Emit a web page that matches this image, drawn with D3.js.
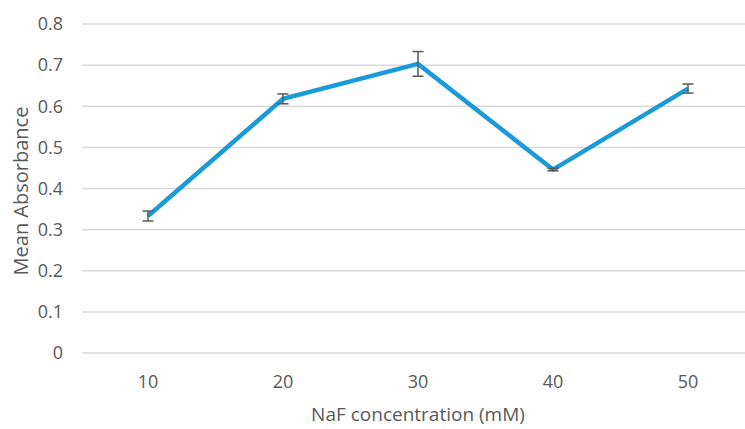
<!DOCTYPE html>
<html>
<head>
<meta charset="utf-8">
<title>Mean Absorbance</title>
<style>
  body { margin: 0; background: #fff; }
  text { font-family: "Open Sans", sans-serif; fill: #595959; }
</style>
</head>
<body>
<svg id="chart" width="745" height="429"></svg>
<script src="https://d3js.org/d3.v7.min.js"></script>
<script>
// data
var concentrations = ["10", "20", "30", "40", "50"];
var absorbance = [0.333, 0.618, 0.703, 0.446, 0.643];
var errors = [0.012, 0.012, 0.030, 0.003, 0.011];
var yTicks = [0, 0.1, 0.2, 0.3, 0.4, 0.5, 0.6, 0.7, 0.8];

var svg = d3.select('#chart');

var x = d3.scalePoint()
    .domain(concentrations)
    .range([148, 688]);

var y = d3.scaleLinear()
    .domain([0, 0.8])
    .range([353, 24]);

var left = 82, right = 745;

// gridlines
svg.append('g')
    .selectAll('line')
    .data(yTicks)
    .enter()
    .append('line')
    .attr('x1', left)
    .attr('x2', right)
    .attr('y1', function(d) { return y(d); })
    .attr('y2', function(d) { return y(d); })
    .attr('stroke', '#d9d9d9')
    .attr('stroke-width', 1.5);

// y tick labels
svg.append('g')
    .selectAll('text')
    .data(yTicks)
    .enter()
    .append('text')
    .attr('x', 63)
    .attr('y', function(d) { return y(d); })
    .attr('dy', '0.35em')
    .attr('text-anchor', 'end')
    .style('font-size', '18px')
    .text(function(d) { return d === 0 ? '0' : d3.format('.1f')(d); });

// x tick labels
svg.append('g')
    .selectAll('text')
    .data(concentrations)
    .enter()
    .append('text')
    .attr('x', function(d) { return x(d); })
    .attr('y', 382)
    .attr('dy', '0.35em')
    .attr('text-anchor', 'middle')
    .style('font-size', '18px')
    .text(function(d) { return d; });

// axis titles
svg.append('text')
    .attr('x', 418)
    .attr('y', 421)
    .attr('text-anchor', 'middle')
    .style('font-size', '19px')
    .text('NaF concentration (mM)');

svg.append('text')
    .attr('transform', 'translate(28,191) rotate(-90)')
    .attr('text-anchor', 'middle')
    .style('font-size', '20px')
    .text('Mean Absorbance');

var pts = concentrations.map(function(c, i) {
    return { c: c, v: absorbance[i], e: errors[i] };
});

// line
var line = d3.line()
    .x(function(d) { return x(d.c); })
    .y(function(d) { return y(d.v); });

svg.append('path')
    .datum(pts)
    .attr('d', line)
    .attr('fill', 'none')
    .attr('stroke', '#1a9ad8')
    .attr('stroke-width', 4.5)
    .attr('stroke-linejoin', 'miter');

// error bars
var eb = svg.append('g')
    .attr('stroke', '#595959')
    .attr('stroke-width', 1.5);

eb.selectAll('.v')
    .data(pts)
    .enter()
    .append('line')
    .attr('x1', function(d) { return x(d.c); })
    .attr('x2', function(d) { return x(d.c); })
    .attr('y1', function(d) { return y(d.v + d.e); })
    .attr('y2', function(d) { return y(d.v - d.e); });

eb.selectAll('.top')
    .data(pts)
    .enter()
    .append('line')
    .attr('x1', function(d) { return x(d.c) - 5.5; })
    .attr('x2', function(d) { return x(d.c) + 5.5; })
    .attr('y1', function(d) { return y(d.v + d.e); })
    .attr('y2', function(d) { return y(d.v + d.e); });

eb.selectAll('.bot')
    .data(pts)
    .enter()
    .append('line')
    .attr('x1', function(d) { return x(d.c) - 5.5; })
    .attr('x2', function(d) { return x(d.c) + 5.5; })
    .attr('y1', function(d) { return y(d.v - d.e); })
    .attr('y2', function(d) { return y(d.v - d.e); });
</script>
</body>
</html>
